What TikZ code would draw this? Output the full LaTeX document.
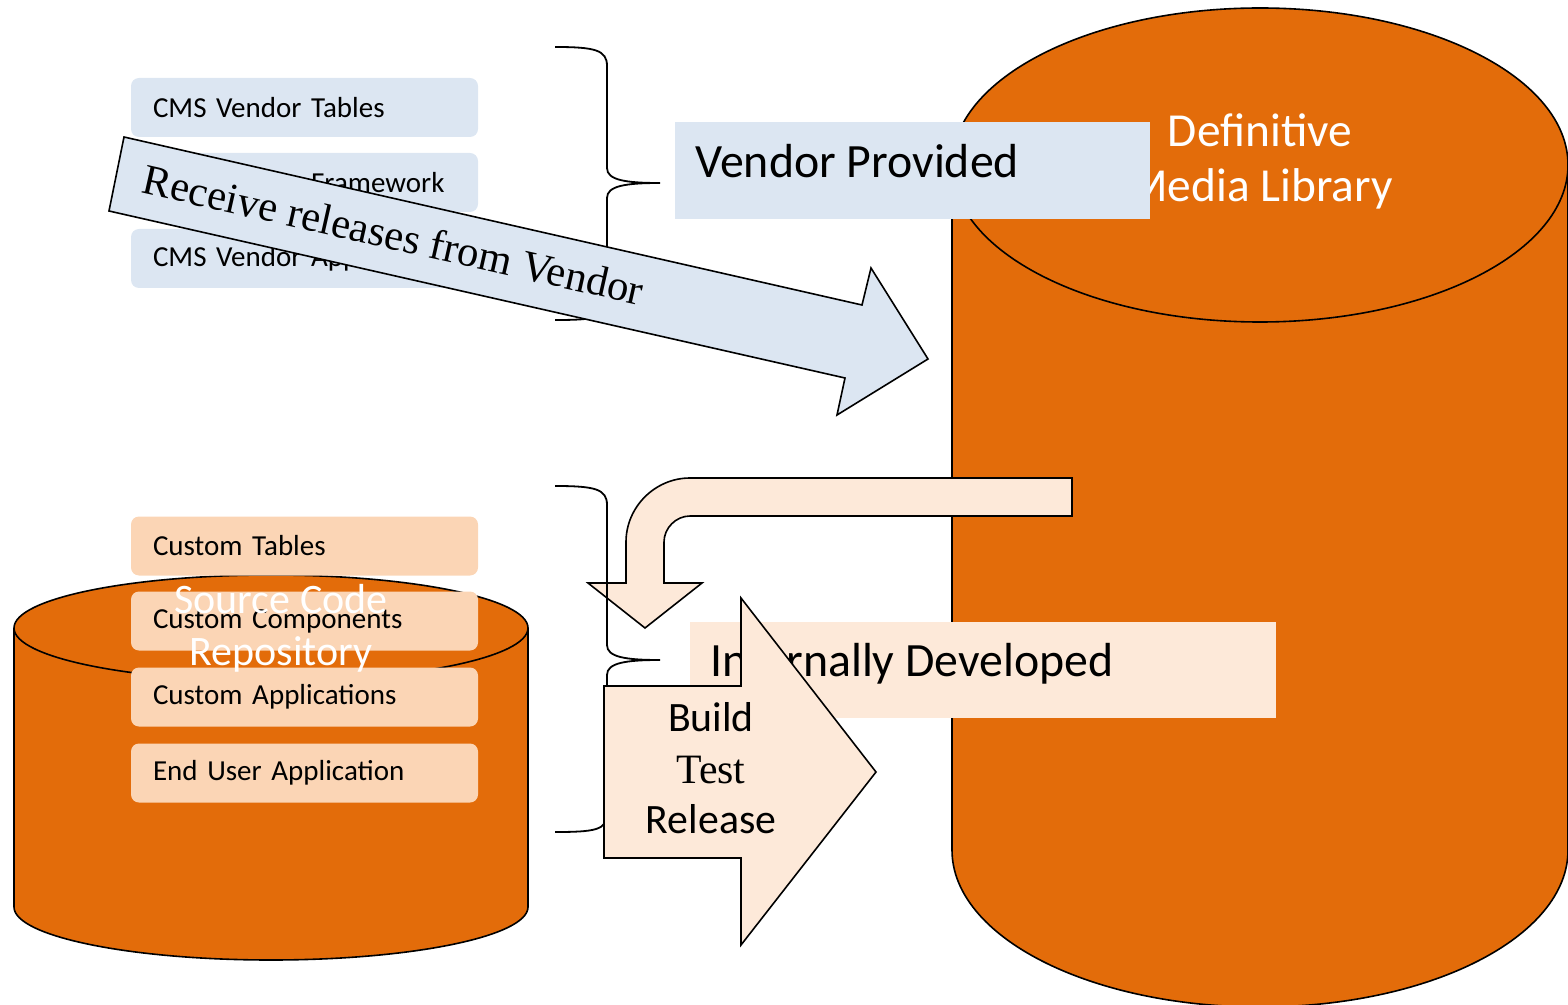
\documentclass[tikz,border=0pt]{standalone}
\usepackage{fontspec}
\setmainfont{Carlito}
\newfontfamily\tnr{Liberation Serif}
\definecolor{orangeC}{HTML}{E36C0A}
\definecolor{blueL}{HTML}{DCE6F2}
\definecolor{peachC}{HTML}{FBD5B5}
\definecolor{peachL}{HTML}{FDE9D9}
\tikzset{
  outl/.style={draw=black, line width=0.8pt, line join=miter},
  itembox/.style={rounded corners=4pt, minimum width=173.5pt, minimum height=29.5pt,
     text width=151.5pt, inner xsep=11pt, inner ysep=0pt, align=left,
     font=\fontsize{14.5}{17}\selectfont, text=black},
  vbox/.style={itembox, fill=blueL},
  pbox/.style={itembox, fill=peachC},
  bigtxt/.style={font=\fontsize{23.9}{28}\selectfont, inner sep=0pt},
  cyltxt/.style={text=white, inner sep=0pt},
  bracel/.style={draw=black, line width=0.9pt},
}
\begin{document}
\begin{tikzpicture}[x=0.5pt, y=-0.5pt]
\useasboundingbox (0,0) rectangle (1568,1005);
\clip (0,0) rectangle (1568,1005);

% big cylinder (Definitive Media Library)
\filldraw[fill=orangeC, outl] (1568,165) -- (1568,850)
  .. controls (1568,937) and (1430,1007) .. (1260,1007)
  .. controls (1090,1007) and (952,937) .. (952,850) -- (952,165);
\filldraw[fill=orangeC, outl] (1260,165) ellipse [x radius=308, y radius=157];
\node[cyltxt, anchor=base, font=\fontsize{23.7}{28}\selectfont] (dml1) at (1260,147) {Definitive};
\node[cyltxt, anchor=base, font=\fontsize{23.7}{28}\selectfont] (dml2) at (1260,202) {Media Library};

% Vendor Provided label box
\fill[blueL] (675,122) rectangle (1150,219);
\node[bigtxt, anchor=base west] (vp) at (695,178) {Vendor Provided};

% Internally Developed label box
\fill[peachL] (690,622) rectangle (1276,718);
\node[bigtxt, anchor=base west] (idv) at (710,676) {Internally Developed};

% bent arrow
\filldraw[fill=peachL, outl] (1072,478) -- (690,478)
  .. controls (655,478) and (626,507) .. (626,542)
  -- (626,583) -- (588,583) -- (645,628) -- (702,583) -- (664,583) -- (664,542)
  .. controls (664,528) and (676,516) .. (690,516) -- (1072,516) -- cycle;

% small cylinder (Source Code Repository)
\filldraw[fill=orangeC, outl] (14,628) -- (14,907)
  .. controls (14,936) and (129,960) .. (271,960)
  .. controls (413,960) and (528,936) .. (528,907) -- (528,628);
\filldraw[fill=orangeC, outl] (271,628) ellipse [x radius=257, y radius=53];

% custom boxes
\node[pbox] (ct) at (304.5,546) {Custom Tables};
\node[pbox] (cc) at (304.5,621) {Custom Components};
\node[pbox] (ca) at (304.5,697) {Custom Applications};
\node[pbox] (eu) at (304.5,773) {End User Application};
\node[cyltxt, anchor=base, font=\fontsize{21}{26}\selectfont] (scr1) at (281,613) {Source Code};
\node[cyltxt, anchor=base, font=\fontsize{21}{26}\selectfont] (scr2) at (281,665) {Repository};

% vendor boxes
\node[vbox] (vt) at (304.5,107.5) {CMS Vendor Tables};
\node[vbox] (vf) at (304.5,182.5) {CMS Vendor Framework};
\node[vbox] (va) at (304.5,258.5) {CMS Vendor Applications};

% braces
\draw[bracel] (555,47) .. controls (595,47) and (607,50) .. (607,66) -- (607,168)
  .. controls (607,180) and (625,183) .. (660,183)
  .. controls (625,183) and (607,186) .. (607,198) -- (607,302)
  .. controls (607,318) and (595,320) .. (555,320);
\draw[bracel] (555,486) .. controls (595,486) and (607,489) .. (607,505) -- (607,645)
  .. controls (607,657) and (625,660) .. (660,660)
  .. controls (625,660) and (607,663) .. (607,675) -- (607,814)
  .. controls (607,830) and (595,832) .. (555,832);

% receive releases arrow
\filldraw[fill=blueL, outl] (124,137) -- (862,305) -- (871,268) -- (928,359)
  -- (837,415) -- (845,378) -- (109,211) -- cycle;
\node[anchor=base, rotate=-12.73, inner sep=0pt, font=\tnr\fontsize{21.4}{26}\selectfont] (rr) at (390,249) {Receive releases from Vendor};

% build test release arrow
\filldraw[fill=peachL, outl] (604,686) -- (741,686) -- (741,598) -- (876,772)
  -- (741,945) -- (741,858) -- (604,858) -- cycle;
\node[anchor=base, inner sep=0pt, font=\fontsize{20.9}{25}\selectfont] (bld) at (711,731) {Build};
\node[anchor=base, inner sep=0pt, font=\tnr\fontsize{20.9}{25}\selectfont] (tst) at (711,783) {Test};
\node[anchor=base, inner sep=0pt, font=\fontsize{20.9}{25}\selectfont] (rel) at (711,833) {Release};
\end{tikzpicture}
\end{document}
